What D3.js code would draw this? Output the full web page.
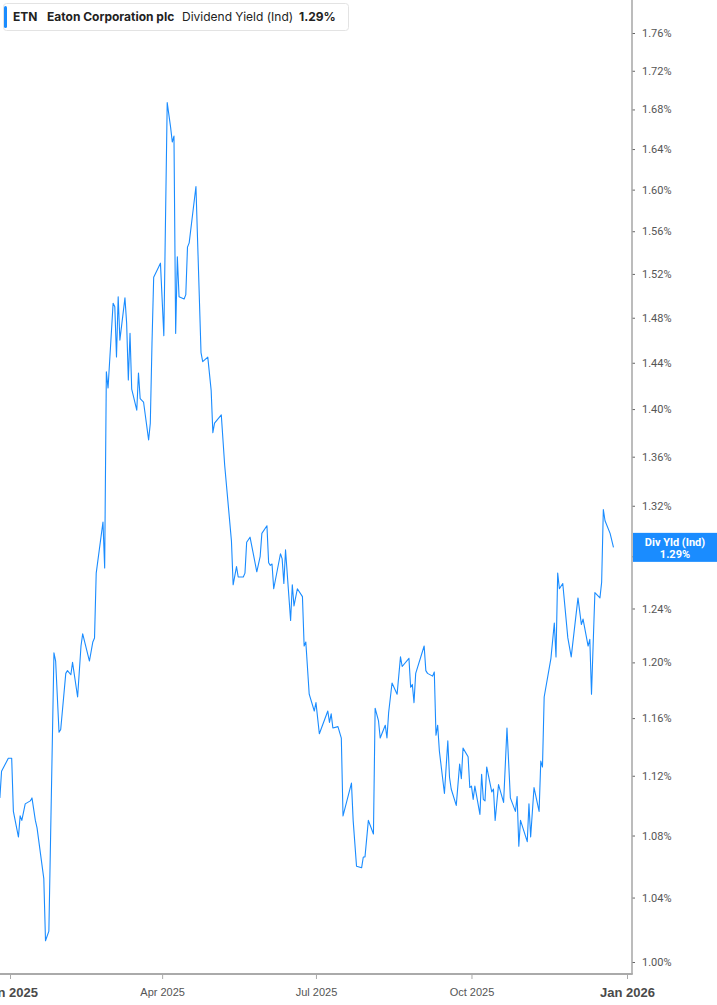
<!DOCTYPE html>
<html>
<head>
<meta charset="utf-8">
<script src="https://cdn.jsdelivr.net/npm/d3@7"></script>
<style>
  html, body { margin: 0; padding: 0; background: #fff; }
  svg { display: block; }
</style>
</head>
<body>
<div id="chart"></div>
<script>
// ETN dividend yield (indicated)
const dates = [
  "2024-12-26","2024-12-27","2024-12-31","2025-01-02","2025-01-03","2025-01-06","2025-01-07","2025-01-08","2025-01-10","2025-01-13",
  "2025-01-14","2025-01-16","2025-01-17","2025-01-21","2025-01-22","2025-01-24","2025-01-27","2025-01-28","2025-01-30","2025-01-31",
  "2025-02-03","2025-02-04","2025-02-06","2025-02-07","2025-02-10","2025-02-12","2025-02-13","2025-02-17","2025-02-19","2025-02-20",
  "2025-02-21","2025-02-25","2025-02-26","2025-02-27","2025-02-28","2025-03-03","2025-03-04","2025-03-05","2025-03-06","2025-03-07",
  "2025-03-10","2025-03-11","2025-03-12","2025-03-13","2025-03-14","2025-03-17","2025-03-18","2025-03-19","2025-03-21","2025-03-24",
  "2025-03-25","2025-03-26","2025-03-27","2025-03-31","2025-04-02","2025-04-04","2025-04-06","2025-04-07","2025-04-08","2025-04-09",
  "2025-04-10","2025-04-11","2025-04-14","2025-04-15","2025-04-16","2025-04-17","2025-04-21","2025-04-24","2025-04-25","2025-04-28",
  "2025-04-30","2025-05-01","2025-05-02","2025-05-06","2025-05-08","2025-05-12","2025-05-13","2025-05-15","2025-05-16","2025-05-19",
  "2025-05-20","2025-05-21","2025-05-23","2025-05-27","2025-05-29","2025-05-30","2025-06-02","2025-06-03","2025-06-04","2025-06-05",
  "2025-06-06","2025-06-10","2025-06-11","2025-06-12","2025-06-13","2025-06-16","2025-06-17","2025-06-18","2025-06-20","2025-06-23",
  "2025-06-24","2025-06-25","2025-06-27","2025-06-30","2025-07-01","2025-07-03","2025-07-08","2025-07-09","2025-07-10","2025-07-11",
  "2025-07-14","2025-07-16","2025-07-17","2025-07-22","2025-07-23","2025-07-25","2025-07-28","2025-07-29","2025-07-30","2025-08-01",
  "2025-08-04","2025-08-05","2025-08-07","2025-08-08","2025-08-11","2025-08-12","2025-08-13","2025-08-15","2025-08-18","2025-08-20",
  "2025-08-21","2025-08-25","2025-08-26","2025-08-27","2025-08-28","2025-08-29","2025-09-03","2025-09-04","2025-09-05","2025-09-08",
  "2025-09-09","2025-09-10","2025-09-11","2025-09-12","2025-09-15","2025-09-17","2025-09-18","2025-09-19","2025-09-22","2025-09-24",
  "2025-09-25","2025-09-26","2025-09-29","2025-09-30","2025-10-01","2025-10-02","2025-10-03","2025-10-06","2025-10-07","2025-10-08",
  "2025-10-09","2025-10-10","2025-10-13","2025-10-14","2025-10-15","2025-10-17","2025-10-20","2025-10-22","2025-10-24","2025-10-27",
  "2025-10-28","2025-10-29","2025-10-30","2025-11-03","2025-11-04","2025-11-05","2025-11-07","2025-11-10","2025-11-11","2025-11-12",
  "2025-11-13","2025-11-17","2025-11-19","2025-11-20","2025-11-21","2025-11-22","2025-11-24","2025-11-27","2025-11-29","2025-12-03",
  "2025-12-05","2025-12-06","2025-12-09","2025-12-10","2025-12-11","2025-12-13","2025-12-16","2025-12-17","2025-12-18","2025-12-19",
  "2025-12-22","2025-12-24"
];
const yields = [
  1.105,1.123,1.132,1.132,1.096,1.079,1.093,1.090,1.101,1.103,
  1.105,1.090,1.085,1.052,1.013,1.019,1.207,1.201,1.150,1.152,
  1.192,1.194,1.191,1.200,1.175,1.212,1.221,1.201,1.215,1.218,
  1.267,1.307,1.271,1.432,1.418,1.493,1.490,1.445,1.499,1.460,
  1.498,1.475,1.425,1.466,1.417,1.399,1.431,1.409,1.406,1.374,
  1.388,1.457,1.517,1.530,1.464,1.687,1.662,1.647,1.653,1.466,
  1.536,1.499,1.497,1.501,1.545,1.549,1.603,1.449,1.441,1.445,
  1.416,1.380,1.388,1.395,1.353,1.292,1.258,1.272,1.264,1.264,
  1.267,1.291,1.295,1.268,1.280,1.298,1.304,1.275,1.273,1.274,
  1.255,1.282,1.278,1.259,1.285,1.231,1.258,1.242,1.255,1.249,
  1.212,1.215,1.177,1.165,1.171,1.149,1.165,1.157,1.163,1.153,
  1.154,1.146,1.093,1.115,1.090,1.060,1.059,1.066,1.066,1.090,
  1.081,1.167,1.158,1.146,1.155,1.146,1.164,1.185,1.177,1.204,
  1.197,1.203,1.182,1.184,1.171,1.192,1.212,1.194,1.192,1.190,
  1.193,1.148,1.155,1.137,1.108,1.144,1.119,1.111,1.100,1.128,
  1.118,1.139,1.133,1.112,1.113,1.104,1.113,1.094,1.121,1.104,
  1.103,1.126,1.109,1.111,1.090,1.114,1.102,1.153,1.105,1.096,
  1.106,1.073,1.090,1.076,1.101,1.079,1.112,1.096,1.130,1.126,
  1.175,1.203,1.229,1.204,1.267,1.255,1.259,1.218,1.204,1.248,
  1.228,1.232,1.212,1.217,1.177,1.252,1.248,1.260,1.317,1.308,
  1.298,1.287
];
const yTicks = [1.00,1.04,1.08,1.12,1.16,1.20,1.24,1.28,1.32,1.36,1.40,1.44,1.48,1.52,1.56,1.60,1.64,1.68,1.72,1.76];
const xTicks = ["2025-01-01","2025-04-01","2025-07-01","2025-10-01","2026-01-01"];
const ticker = "ETN";
const company = "Eaton Corporation plc";
const metric = "Dividend Yield (Ind)";
const badgeTitle = "Div Yld (Ind)";

const W = 717, H = 1005;
const plotRight = 632, plotBottom = 974;
const lineColor = "#1a8cff";
const parse = d3.timeParse("%Y-%m-%d");
const data = dates.map((d, i) => ({date: parse(d), value: yields[i]}));
const last = data[data.length - 1];

const svg = d3.select("#chart").append("svg")
    .attr("width", W)
    .attr("height", H)
    .style("font-family", "Roboto, 'Noto Sans', sans-serif");

const x = d3.scaleTime()
    .domain([parse(xTicks[0]), parse(xTicks[xTicks.length - 1])])
    .range([10, 627]);

// the value axis is logarithmic (tick gaps shrink upward)
const y = d3.scaleLog()
    .domain([1.00, 1.76])
    .range([962, 33]);

svg.append("clipPath").attr("id", "plot")
  .append("rect").attr("x", 0).attr("y", 0).attr("width", plotRight).attr("height", plotBottom);

const line = d3.line()
    .x(d => x(d.date))
    .y(d => y(d.value));

svg.append("path")
    .datum(data)
    .attr("clip-path", "url(#plot)")
    .attr("fill", "none")
    .attr("stroke", lineColor)
    .attr("stroke-width", 1.1)
    .attr("stroke-linejoin", "round")
    .attr("d", line);

// right value axis
const yAxis = svg.append("g")
    .attr("transform", `translate(${plotRight},0)`)
    .call(d3.axisRight(y).tickValues(yTicks).tickSize(3).tickPadding(7)
        .tickFormat(d => d3.format(".2f")(d) + "%"));
yAxis.select(".domain").remove();
yAxis.selectAll(".tick line").attr("stroke", "#666");
yAxis.selectAll(".tick text")
    .attr("fill", "#555")
    .style("font-size", "11px")
    .style("font-family", "Roboto, sans-serif");

svg.append("line")
    .attr("x1", plotRight).attr("x2", plotRight)
    .attr("y1", 0).attr("y2", plotBottom)
    .attr("stroke", "#a6a6a6").attr("stroke-width", 1.5);

// bottom time axis
const xAxis = svg.append("g")
    .attr("transform", `translate(0,${plotBottom})`)
    .call(d3.axisBottom(x).tickValues(xTicks.map(parse)).tickSize(5).tickPadding(7)
        .tickFormat(d3.timeFormat("%b %Y")));
xAxis.select(".domain").remove();
xAxis.selectAll(".tick line").attr("stroke", "#aaa");
xAxis.selectAll(".tick text")
    .attr("fill", d => d.getMonth() === 0 ? "#4a4a4a" : "#555")
    .style("font-size", d => d.getMonth() === 0 ? "13px" : "11px")
    .style("font-weight", d => d.getMonth() === 0 ? "bold" : "normal")
    .attr("dy", d => d.getMonth() === 0 ? "0.85em" : "0.9em");

svg.append("line")
    .attr("x1", 0).attr("x2", plotRight + 0.75)
    .attr("y1", plotBottom).attr("y2", plotBottom)
    .attr("stroke", "#aaa").attr("stroke-width", 2);

// last value badge
const by = y(last.value);
const badge = svg.append("g");
badge.append("rect")
    .attr("x", plotRight + 1).attr("y", by - 14.5)
    .attr("width", W - plotRight - 1).attr("height", 29)
    .attr("fill", lineColor);
badge.append("text")
    .attr("x", 675).attr("y", by - 5)
    .attr("text-anchor", "middle").attr("dy", "0.35em")
    .attr("fill", "#fff").style("font-size", "11px").style("font-weight", "bold")
    .text(badgeTitle);
badge.append("text")
    .attr("x", 675).attr("y", by + 7)
    .attr("text-anchor", "middle").attr("dy", "0.35em")
    .attr("fill", "#fff").style("font-size", "11px").style("font-weight", "bold")
    .text(d3.format(".2f")(last.value) + "%");

// legend box, top left
const legend = svg.append("g").style("font-family", "Inter, Roboto, sans-serif");
legend.append("rect")
    .attr("x", 3.5).attr("y", 3.5).attr("width", 345).attr("height", 27).attr("rx", 3)
    .attr("fill", "#fff").attr("stroke", "#e3e3e3");
legend.append("rect")
    .attr("x", 4).attr("y", 6).attr("width", 3).attr("height", 22).attr("rx", 1.5)
    .attr("fill", lineColor);
const legendItems = [
  {t: ticker, x: 13, w: "bold"},
  {t: company, x: 47, w: "bold"},
  {t: metric, x: 182, w: "normal"},
  {t: d3.format(".2f")(last.value) + "%", x: 299, w: "bold"}
];
legend.selectAll("text.item").data(legendItems).enter().append("text")
    .attr("class", "item")
    .attr("x", d => d.x).attr("y", 17)
    .attr("dy", "0.35em")
    .attr("fill", "#222")
    .style("font-size", "12px")
    .style("font-weight", d => d.w)
    .text(d => d.t);
</script>
</body>
</html>
